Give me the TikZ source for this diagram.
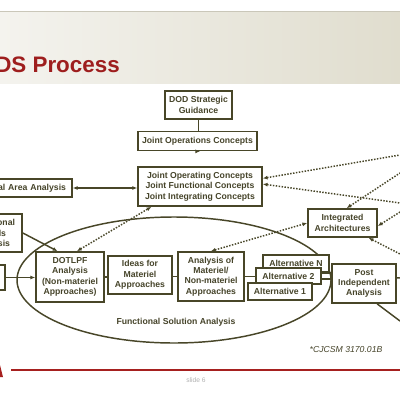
\documentclass[tikz,border=0pt]{standalone}
\usepackage{fontspec}
\setmainfont{Liberation Sans}
\usetikzlibrary{arrows.meta,calc}
\definecolor{boxc}{RGB}{72,70,40}
\definecolor{txtc}{RGB}{70,68,42}
\definecolor{titlered}{RGB}{158,30,30}
\definecolor{linered}{RGB}{166,32,31}
\definecolor{bannerl}{RGB}{244,243,238}
\definecolor{bannerr}{RGB}{224,221,206}
\newcommand{\boxfont}{\bfseries\fontsize{6.5pt}{7.8pt}\selectfont}
\tikzset{
  box/.style={draw=boxc, line width=1.3pt, fill=white, text=txtc, font=\boxfont, align=center, inner sep=1pt},
  conn/.style={draw=boxc, line width=1.1pt},
  dotconn/.style={draw=boxc, line width=1.1pt, dash pattern=on 1.1pt off 1.1pt},
  arrowend/.style={-{Latex[length=3.5pt,width=3pt]}},
  arrowboth/.style={{Latex[length=3.5pt,width=3pt]}-{Latex[length=3.5pt,width=3pt]}},
  arrowstart/.style={{Latex[length=3.5pt,width=3pt]}-}
}
\begin{document}
\begin{tikzpicture}[x=0.75pt,y=-0.75pt]
\useasboundingbox (0,0) rectangle (400,400);
\clip (0,0) rectangle (400,400);
\fill[white] (0,0) rectangle (400,400);
% banner
\shade[left color=bannerl, right color=bannerr] (0,11) rectangle (400,83);
\draw[bannerr!90!black, line width=0.5pt] (0,11.5) -- (400,11.5);
\node[anchor=base west, inner sep=0pt, text=titlered, font=\bfseries\fontsize{16.8pt}{19pt}\selectfont] (title) at (-5,72) {DS Process};
% ellipse
\draw[conn] (174,280) ellipse [x radius=117.75pt, y radius=47.25pt];
\node[text=txtc, font=\boxfont] (fsa) at (176,322) {Functional Solution Analysis};
% boxes
\node[box, minimum width=50.25pt, minimum height=21pt] (dod) at (198.5,105) {DOD Strategic\\Guidance};
\node[box, minimum width=89.25pt, minimum height=14.25pt] (joc) at (197.5,141) {Joint Operations Concepts};
\node[box, minimum width=93pt, minimum height=29.25pt] (jc) at (200,186.5) {Joint Operating Concepts\\Joint Functional Concepts\\Joint Integrating Concepts};
\node[box, minimum width=99pt, minimum height=13.5pt, text width=90pt, align=right] (faa) at (6,188) {al Area Analysis};
\node[box, minimum width=44.25pt, minimum height=28.5pt, text width=33.75pt, align=right] (fna) at (-7.5,233) {onal\\\mbox{ls\kern6.75pt}\\\mbox{sis\kern3.75pt}};
\node[box, minimum width=33.75pt, minimum height=18.75pt] (lbox) at (-17.5,277.5) {};
\node[box, minimum width=51pt, minimum height=37.5pt] (dotlpf) at (70,277) {DOTLPF\\Analysis\\(Non-materiel\\Approaches)};
\node[box, minimum width=48pt, minimum height=28.5pt] (ideas) at (140,275) {Ideas for\\Materiel\\Approaches};
\node[box, minimum width=49.5pt, minimum height=36.75pt] (anal) at (211,276.5) {Analysis of\\Materiel/\\Non-materiel\\Approaches};
\node[box, minimum width=49.5pt, minimum height=12.75pt] (altN) at (296,263.5) {Alternative N};
\node[box, minimum width=48.75pt, minimum height=12pt] (alt2) at (288.5,276) {Alternative 2};
\node[box, minimum width=48pt, minimum height=12.75pt] (alt1) at (280,291.5) {Alternative 1};
\node[box, minimum width=48pt, minimum height=29.25pt] (post) at (364,283.5) {Post\\Independent\\Analysis};
\node[box, minimum width=51.75pt, minimum height=21pt] (ia) at (342.5,223) {Integrated\\Architectures};
% free ends
\coordinate (r1) at (400,155);
\coordinate (r2) at (400,203);
\coordinate (r3) at (400,173);
\coordinate (r4) at (400,212);
\coordinate (r5) at (400,254);
\coordinate (r6) at (400,321);
\coordinate (r7) at (400,278);
% solid connectors
\draw[conn] (dod.south) -- (dod.south |- joc.north);
\draw[conn, arrowend] (joc.south) -- (joc.south -| jc.north);
\draw[conn, arrowboth] (faa.east) -- (faa.east -| jc.west);
\draw[conn, arrowend] (fna.east) -- ($(dotlpf.north west)!0.32!(dotlpf.north east)$);
\draw[conn, arrowend] (lbox.east) -- (lbox.east -| dotlpf.west);
\draw[conn] (dotlpf.east) -- (dotlpf.east -| ideas.west);
\draw[conn] (ideas.east |- anal.east) -- (anal.west);
\draw[conn] (anal.east) -- (anal.east -| alt2.west);
\draw[conn] ([yshift=2.25pt]alt2.east) -- ([yshift=2.25pt]alt2.east -| post.west);
\draw[conn] ([yshift=-2.25pt]alt2.east) -- ([yshift=-2.25pt]alt2.east -| post.west);
\draw[conn] ($(post.south west)!0.7!(post.south east)$) -- (r6);
\draw[conn] ($(post.north east)!0.36!(post.south east)$) -- (r7);
% dotted connectors
\draw[dotconn, arrowboth] ($(dotlpf.north west)!0.6!(dotlpf.north east)$) -- ($(jc.south west)!0.113!(jc.south east)$);
\draw[dotconn, arrowboth] (anal.north) -- (ia.west);
\draw[dotconn, arrowstart] ($(jc.north east)!0.3!(jc.south east)$) -- (r1);
\draw[dotconn, arrowstart] ($(jc.north east)!0.44!(jc.south east)$) -- (r2);
\draw[dotconn, arrowstart] ($(ia.north west)!0.56!(ia.north east)$) -- (r3);
\draw[dotconn, arrowstart] ($(ia.north east)!0.6!(ia.south east)$) -- (r4);
\draw[dotconn, arrowstart] ($(ia.south west)!0.87!(ia.south east)$) -- (r5);
% footer
\node[text=txtc, font=\itshape\fontsize{6.5pt}{7.8pt}\selectfont] (ref) at (346,350) {*CJCSM 3170.01B};
\draw[linered, line width=1.6pt] (11,370) -- (400,370);
\fill[linered] (-4,377) -- (0,365) -- (3,377) -- cycle;
\node[text=black!30, font=\fontsize{5pt}{6pt}\selectfont, anchor=west, inner sep=0pt] (slide) at (186,380) {slide 6};
\end{tikzpicture}
\end{document}
